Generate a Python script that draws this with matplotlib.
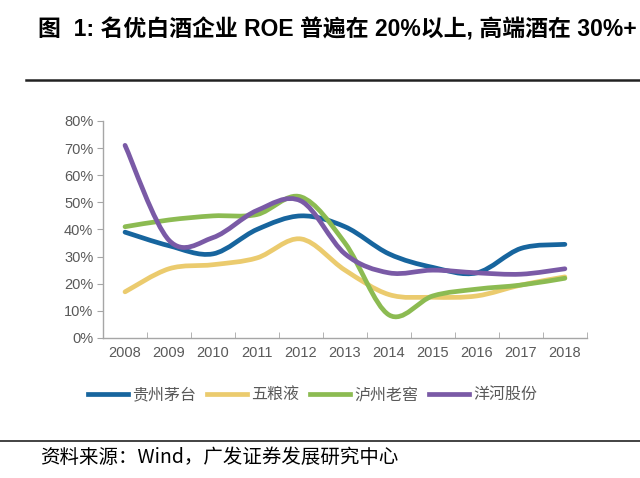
import matplotlib
matplotlib.use("Agg")
import matplotlib.pyplot as plt
import numpy as np
from matplotlib.path import Path
from matplotlib.patches import PathPatch
from matplotlib.lines import Line2D

plt.rcParams['font.family'] = ['Liberation Sans', 'Noto Sans CJK SC', 'DejaVu Sans']

years = ['2008', '2009', '2010', '2011', '2012', '2013', '2014', '2015', '2016', '2017', '2018']
moutai = [39, 34, 31, 40, 45, 41, 31, 26, 24, 33, 34.5]
wuliangye = [17, 25.5, 27, 29.5, 36.5, 25, 16, 15, 15.5, 19.5, 22.5]
luzhou = [41, 43.5, 45, 45.5, 52, 35, 8.5, 15.5, 18, 19.5, 22]
yanghe = [71, 36, 37, 47, 50.5, 31, 24, 25, 24, 23.5, 25.5]

names = ['贵州茅台', '五粮液', '泸州老窖', '洋河股份']
colors = ['#17659e', '#ebcb6e', '#8cbb52', '#7a5aa6']
series = [moutai, wuliangye, luzhou, yanghe]

GREY = '#595959'


def smooth_path(xs, ys):
    # Excel-style smoothed line: cubic Bezier through each point
    pts = np.column_stack([xs, ys]).astype(float)
    ext = np.vstack([pts[0], pts, pts[-1]])
    verts = [pts[0]]
    codes = [Path.MOVETO]
    for i in range(len(pts) - 1):
        p0, p1, p2, p3 = ext[i], ext[i + 1], ext[i + 2], ext[i + 3]
        c1 = p1 + (p2 - p0) / 6
        c2 = p2 - (p3 - p1) / 6
        verts += [c1, c2, p2]
        codes += [Path.CURVE4] * 3
    return Path(verts, codes)


fig = plt.figure(figsize=(6.4, 4.78), dpi=100)
ax = fig.add_axes([0.161, 0.293, 0.756, 0.454])

x = np.arange(len(years))
for vals, c in zip(series, colors):
    ax.add_patch(PathPatch(smooth_path(x, np.array(vals) / 100), facecolor='none',
                           edgecolor=c, lw=3.4, capstyle='round', joinstyle='round'))

ax.set_xlim(-0.5, len(years) - 0.5)
ax.set_ylim(0, 0.8)
ax.set_yticks(np.arange(0, 0.81, 0.1))
ax.set_yticklabels([f'{int(round(v * 100))}%' for v in np.arange(0, 0.81, 0.1)])
ax.set_xticks(x)
ax.set_xticklabels(years)
ax.set_xticks(np.arange(-0.5, len(years), 1), minor=True)
ax.tick_params(axis='x', which='major', length=0, pad=6)
ax.tick_params(axis='x', which='minor', length=4, color='#a6a6a6', direction='in')
ax.tick_params(axis='y', length=4, color='#a6a6a6', direction='out', pad=3)
ax.tick_params(labelsize=10.5, labelcolor=GREY)
for s in ['top', 'right']:
    ax.spines[s].set_visible(False)
for s in ['left', 'bottom']:
    ax.spines[s].set_color('#a6a6a6')
    ax.spines[s].set_linewidth(1)

handles = [Line2D([], [], color=c, lw=3.4) for c in colors]
leg = fig.legend(handles, names, loc='center', bbox_to_anchor=(0.488, 0.174), ncol=4,
                 frameon=False, handlelength=2.5, handletextpad=0.25, columnspacing=0.7,
                 prop={'family': ['Noto Sans CJK SC'], 'size': 11.5})
for t in leg.get_texts():
    t.set_color(GREY)

fig.text(0.06, 0.937, '图  1: 名优白酒企业 ROE 普遍在 20%以上, 高端酒在 30%+',
         fontsize=16.5, fontweight='bold', va='center', ha='left')
fig.add_artist(Line2D([0.04, 1.0], [0.832, 0.832], color='#222222', lw=1.8))
fig.add_artist(Line2D([0.0, 1.0], [0.077, 0.077], color='#222222', lw=1.2))
fig.text(0.062, 0.044, '资料来源：Wind，广发证券发展研究中心', fontsize=14,
         va='center', ha='left', family=['Noto Sans CJK SC'])

fig.savefig('out.png', dpi=100)
